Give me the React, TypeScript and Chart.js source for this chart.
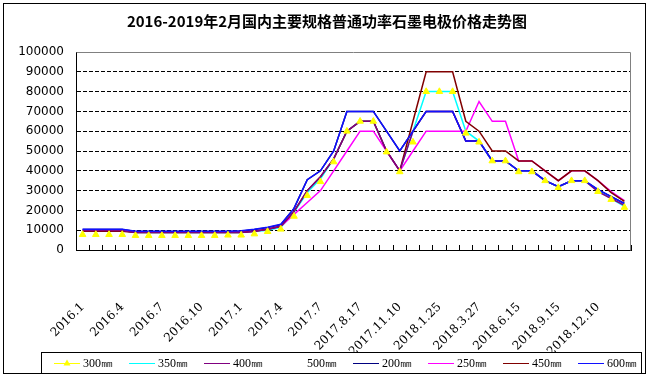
import React, { useEffect, useRef } from 'react';
import { Chart, registerables } from 'chart.js';

Chart.register(...registerables);

const TITLE = '2016-2019年2月国内主要规格普通功率石墨电极价格走势图';

// tick labels shown every third category
const TICK_LABELS = ['2016.1', '2016.4', '2016.7', '2016.10', '2017.1', '2017.4', '2017.7', '2017.8.17', '2017.11.10', '2018.1.25', '2018.3.27', '2018.6.15', '2018.9.15', '2018.12.10'];
const LABEL_STEP = 3;
const CATEGORY_COUNT = 42;
const CATEGORIES = Array.from({ length: CATEGORY_COUNT }, (_, i) => (i % LABEL_STEP === 0 ? TICK_LABELS[i / LABEL_STEP] ?? '' : ''));

const Y_MIN = 0;
const Y_MAX = 100000;
const Y_STEP = 10000;

const S300 = [7800, 7800, 7800, 7800, 7300, 7300, 7300, 7300, 7300, 7300, 7300, 7500, 7500, 8100, 9300, 10500,
  17000, 27500, 34500, 44500, 60000, 65000, 65000, 49500, 39500, 54500, 80000, 80000, 80000, 59000, 54500, 45000, 45000, 39500, 39500, 35000, 31500, 35000, 35000, 29500, 25500, 21500];
const S350 = [9800, 9800, 9800, 9800, 8800, 8800, 8800, 8800, 8800, 8800, 8800, 8800, 8800, 9300, 10000, 11500,
  19000, 29000, 36000, 46000, 60000, 65000, 65000, 50000, 40000, 60000, 80000, 80000, 80000, 60000, 55000, 45000, 45000, 40000, 40000, 35000, 32000, 35000, 35000, 30000, 26000, 22000];
const S400 = [9800, 9800, 9800, 9800, 8800, 8800, 8800, 8800, 8800, 8800, 8800, 8800, 8800, 9500, 10500, 12000,
  19500, 30000, 37000, 46000, 60000, 65000, 65000, 50000, 40000, 60000, 70000, 70000, 70000, 55000, 55000, 45000, 45000, 40000, 40000, 35000, 32000, 35000, 35000, 29500, 26000, 22500];
const S500: (number | null)[] = Array.from({ length: CATEGORY_COUNT }, () => null);
const S200 = [10300, 10300, 10300, 10300, 9300, 9300, 9300, 9300, 9300, 9300, 9300, 9300, 9500, 10300, 11300, 12800,
  21000, 35500, 40000, 50000, 70000, 70000, 70000, 60000, 50000, 60000, 70000, 70000, 70000, 55000, 55000, 45000, 45000, 40000, 40000, 35000, 32000, 35000, 35000, 30500, 27000, 23500];
const S250 = [10000, 10000, 10000, 10000, 9000, 9000, 9000, 9000, 9000, 9000, 9000, 9000, 9000, 9500, 10500, 12000,
  18000, 24000, 30000, 40000, 50000, 60000, 60000, 50000, 40000, 50000, 60000, 60000, 60000, 60000, 75000, 65000, 65000, 45000, 45000, 40000, 35000, 40000, 40000, 35000, 29500, 25000];
const S450 = [9500, 9500, 9500, 9500, 8800, 8800, 8800, 8800, 8800, 8800, 8800, 8800, 8800, 9500, 10500, 12000,
  19500, 30000, 37000, 46000, 60000, 65000, 65000, 50000, 40000, 65000, 90000, 90000, 90000, 65000, 60000, 50000, 50000, 45000, 45000, 40000, 35000, 40000, 40000, 35000, 29000, 24500];
const S600 = [10500, 10500, 10500, 10500, 9500, 9500, 9500, 9500, 9500, 9500, 9500, 9500, 9700, 10500, 11500, 13000,
  21000, 35500, 40000, 50000, 70000, 70000, 70000, 60000, 50000, 60000, 70000, 70000, 70000, 55000, 55000, 45000, 45000, 40000, 40000, 35000, 32000, 35000, 35000, 30500, 27000, 23500];

const SERIES_NAMES = ['300㎜', '350㎜', '400㎜', '500㎜', '200㎜', '250㎜', '450㎜', '600㎜'];
const SERIES_DATA = [S300, S350, S400, S500, S200, S250, S450, S600];
const SERIES_COLORS = ['#FFFF00', '#00FFFF', '#800080', '#FFFFFF', '#000080', '#FF00FF', '#800000', '#1010FF'];
const SERIES_LAYER = [0, 5, 2, 7, 6, 4, 3, 1];

const framePlugin = {
  id: 'frameTitleLegend',
  afterDraw(chart: any) {
    const { ctx, chartArea } = chart;
    ctx.save();
    // grey plot border top/right
    ctx.strokeStyle = '#808080';
    ctx.lineWidth = 1;
    ctx.beginPath();
    ctx.moveTo(Math.round(chartArea.left) + 0.5, Math.round(chartArea.top) + 0.5);
    ctx.lineTo(Math.round(chartArea.right) - 0.5, Math.round(chartArea.top) + 0.5);
    ctx.lineTo(Math.round(chartArea.right) - 0.5, Math.round(chartArea.bottom) + 0.5);
    ctx.stroke();

    // title
    ctx.fillStyle = '#000';
    ctx.font = 'bold 15px "Noto Sans CJK SC"';
    ctx.textAlign = 'center';
    ctx.textBaseline = 'middle';
    ctx.fillText(TITLE, 327, 21);

    // legend box
    ctx.fillStyle = '#fff';
    ctx.fillRect(41.5, 352.5, 600, 21);
    ctx.strokeStyle = '#000';
    ctx.strokeRect(41.5, 352.5, 600, 21);
    const ly = 363.5;
    SERIES_NAMES.forEach((name, i) => {
      const x0 = Math.round(54 + 74.8 * i);
      const color = SERIES_COLORS[i];
      ctx.setLineDash([]);
      ctx.strokeStyle = color;
      ctx.lineWidth = 1;
      ctx.beginPath();
      ctx.moveTo(x0, ly);
      ctx.lineTo(x0 + 26, ly);
      ctx.stroke();
      if (i === 0) {
        const r = 4;
        const cx = x0 + 13;
        ctx.fillStyle = color;
        ctx.beginPath();
        ctx.moveTo(cx, ly - r);
        ctx.lineTo(cx + r * 0.87, ly + r / 2);
        ctx.lineTo(cx - r * 0.87, ly + r / 2);
        ctx.closePath();
        ctx.fill();
      }
      ctx.fillStyle = '#000';
      ctx.font = '12px "Liberation Serif"';
      ctx.textAlign = 'left';
      ctx.textBaseline = 'middle';
      ctx.fillText(name, x0 + 29, ly);
    });

    // outer frame
    ctx.strokeStyle = '#000';
    ctx.lineWidth = 1;
    ctx.strokeRect(3.5, 3.5, 642, 370);
    ctx.restore();
  },
};

export default function App() {
  const ref = useRef<HTMLCanvasElement>(null);
  useEffect(() => {
    const datasets = SERIES_NAMES.map((name, i) => {
      const isMarker = i === 0;
      return {
        label: name,
        data: SERIES_DATA[i],
        borderColor: SERIES_COLORS[i],
        backgroundColor: SERIES_COLORS[i],
        borderWidth: 1.5,
        showLine: !isMarker,
        pointRadius: isMarker ? 3.8 : 0,
        pointStyle: 'triangle',
        pointBackgroundColor: SERIES_COLORS[i],
        pointBorderColor: SERIES_COLORS[i],
        pointBorderWidth: 1,
        tension: 0,
        fill: false,
        order: SERIES_LAYER[i],
      };
    });
    const chart = new Chart(ref.current as HTMLCanvasElement, {
      type: 'line',
      data: { labels: CATEGORIES, datasets },
      options: {
        responsive: false,
        animation: false,
        devicePixelRatio: 1,
        layout: { padding: { top: 52, right: 18, bottom: 0, left: 0 } },
        plugins: { legend: { display: false }, tooltip: { enabled: false }, title: { display: false } },
        scales: {
          x: {
            type: 'category',
            offset: true,
            grid: { display: true, drawOnChartArea: false, drawTicks: true, tickLength: -5, offset: true, tickColor: '#000', color: '#000' },
            border: { display: true, color: '#000', width: 1 },
            ticks: {
              autoSkip: false,
              maxRotation: 45,
              minRotation: 45,
              padding: 55,
              color: '#000',
              font: { family: '"DejaVu Serif"', size: 12 },
            },
            afterFit: (s: any) => {
              s.height = 132;
              s.paddingLeft = 0;
              s.paddingRight = 0;
            },
          },
          y: {
            min: Y_MIN,
            max: Y_MAX,
            grid: {
              drawTicks: false,
              lineWidth: 1,
              color: (c: any) => (c.tick && (c.tick.value === Y_MIN || c.tick.value === Y_MAX) ? 'rgba(0,0,0,0)' : '#000'),
            },
            border: { display: true, color: '#000', width: 1, dash: [4, 2] },
            ticks: {
              stepSize: Y_STEP,
              padding: 12,
              color: '#000',
              font: { family: '"DejaVu Sans"', size: 12 },
              callback: (v: any) => String(v),
            },
            afterFit: (s: any) => {
              s.width = 76;
            },
          },
        },
      },
      plugins: [framePlugin],
    } as any);
    return () => chart.destroy();
  }, []);
  return (
    <div style={{ position: 'fixed', left: 0, top: 0, width: 649, height: 382, background: '#fff' }}>
      <canvas ref={ref} width={649} height={382} style={{ display: 'block', width: 649, height: 382 }} />
    </div>
  );
}
